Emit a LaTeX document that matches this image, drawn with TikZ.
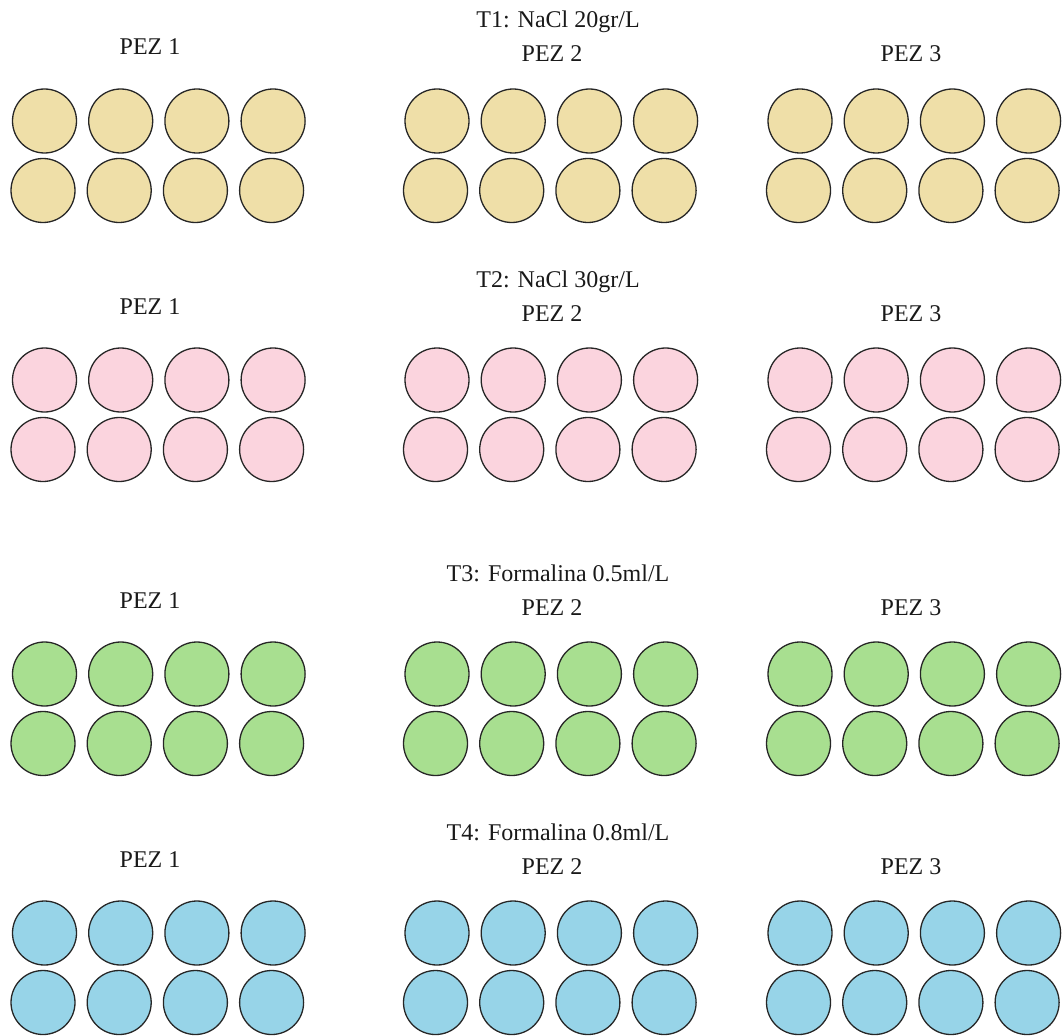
\documentclass[tikz,border=0pt]{standalone}
\usepackage{fontspec}
\setmainfont{Liberation Serif}
\definecolor{ctan}{HTML}{EFDFA8}
\definecolor{cpink}{HTML}{FBD4DE}
\definecolor{cgreen}{HTML}{A8DF90}
\definecolor{cblue}{HTML}{97D4E8}
\begin{document}
\begin{tikzpicture}[x=1pt,y=-1pt,
  well/.style={circle,draw=black!85,line width=1.3pt,minimum size=64pt,inner sep=0pt},
  lbl/.style={anchor=base,font=\fontsize{24}{28}\selectfont,inner sep=0pt,text=black!90}]
\useasboundingbox (0,0) rectangle (1064,1035);
% titles
\node[lbl] (title1) at (558,28) {T1: NaCl 20gr/L};
\node[lbl] (title2) at (558,287) {T2: NaCl 30gr/L};
\node[lbl] (title3) at (558,581) {T3: Formalina 0.5ml/L};
\node[lbl] (title4) at (558,840) {T4: Formalina 0.8ml/L};
% groups
\foreach \t/\off/\col in {1/0/ctan,2/259/cpink,3/553/cgreen,4/812/cblue}{
  \node[lbl] (pez\t-1) at (150,55+\off) {PEZ 1};
  \node[lbl] (pez\t-2) at (552,62+\off) {PEZ 2};
  \node[lbl] (pez\t-3) at (911,62+\off) {PEZ 3};
  \foreach \g/\x in {1/44.5,2/437,3/800}{
    \foreach \i in {0,1,2,3}{
      \node[well,fill=\col] (w\t-\g-a-\i) at ({\x+76.2*\i},121+\off) {};
      \node[well,fill=\col] (w\t-\g-b-\i) at ({\x-1.5+76.2*\i},190.5+\off) {};
    }
  }
}
\end{tikzpicture}
\end{document}
